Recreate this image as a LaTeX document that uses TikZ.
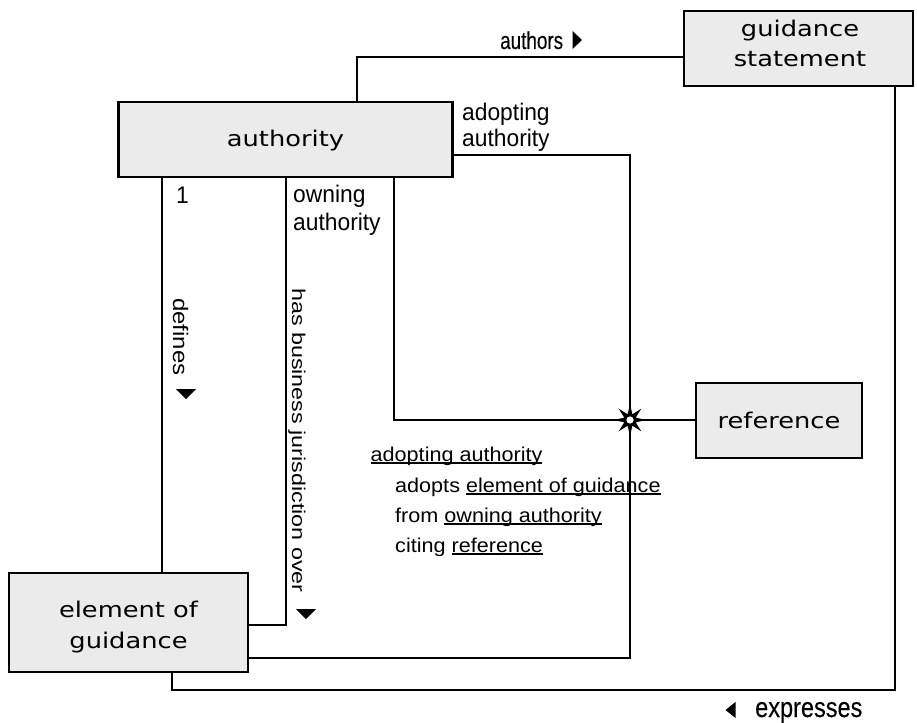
\documentclass[tikz,border=0pt]{standalone}
\usepackage{fontspec}
\usetikzlibrary{shapes.geometric}
\setmainfont{Liberation Sans}
\newfontfamily\boxfnt[FakeStretch=1.19]{DejaVu Sans}
\newfontfamily\lblA[FakeStretch=0.95]{Liberation Sans}
\newfontfamily\lblB[FakeStretch=0.77,FakeBold=0.2]{Liberation Sans}
\newfontfamily\lblC[FakeStretch=0.84,FakeBold=0.2]{Liberation Sans}
\newfontfamily\lblD[FakeStretch=1.14]{Liberation Sans}
\newfontfamily\lblE[FakeStretch=1.26]{Liberation Sans}
\newfontfamily\lblF[FakeStretch=1.08]{Liberation Sans}
\newsavebox\myulbox
\newcommand\myul[1]{\sbox\myulbox{#1}\rlap{\rule[-2.8pt]{\wd\myulbox}{1.6pt}}\usebox\myulbox}
\definecolor{boxgray}{HTML}{EBEBEB}
\tikzset{
  box/.style={draw, line width=2.2pt, fill=boxgray, inner sep=0pt},
  boxtxt/.style={font=\boxfnt\fontsize{21.6}{30}\selectfont, anchor=base, inner sep=0pt},
  conn/.style={line width=2pt},
  lbl/.style={anchor=base west, inner sep=0pt},
  tri/.style={fill=black}
}
\begin{document}
\begin{tikzpicture}[x=1pt,y=-1pt]
\path[use as bounding box] (0,0) rectangle (917,722);

% boxes
\node[box, minimum width=334pt, minimum height=75pt] (auth) at (285.5,139.5) {};
\node[box, minimum width=229pt, minimum height=75pt] (gs) at (798.5,48.5) {};
\node[box, minimum width=239pt, minimum height=99pt] (eog) at (128.5,622.5) {};
\node[box, minimum width=166pt, minimum height=75pt] (ref) at (779,420.5) {};

% box texts
\node[boxtxt] (authT) at (285.5,147) {authority};
\node[boxtxt] (gsT1) at (800,37) {guidance};
\node[boxtxt] (gsT2) at (800,67) {statement};
\node[boxtxt] (eogT1) at (128.5,617) {element of};
\node[boxtxt] (eogT2) at (128.5,648) {guidance};
\node[boxtxt] (refT) at (779,428) {reference};

% routing coordinates
\coordinate (cAuth) at (357,57);
\coordinate (cAdTop) at (630,155);
\coordinate (cAdBot) at (630,658);
\coordinate (cOwn) at (394,420);
\coordinate (cDef) at (162,0);
\coordinate (cHas) at (286,625);
\coordinate (cExR) at (895,690);
\coordinate (cExL) at (172,690);

\coordinate (star) at (630,420);

% connectors
\draw[conn] (auth.north -| cAuth) |- (gs.west |- cAuth);
\draw[conn] (auth.east |- cAdTop) -| (star);
\draw[conn] (star) |- (eog.east |- cAdBot);
\draw[conn] (auth.south -| cOwn) |- (star);
\draw[conn] (star) -- (ref.west |- star);
\draw[conn] (auth.south -| cDef) -- (eog.north -| cDef);
\draw[conn] (auth.south -| cHas) |- (eog.east |- cHas);
\draw[conn] (gs.south -| cExR) |- (cExL) -- (eog.south -| cExL);

% star on top
\fill[shift={(star)}] (0:16)
  \foreach \a in {0,45,...,315} { -- (\a:16) -- (\a+22.5:6.2) } -- cycle;
\fill[white] (star) circle (3.6pt);

% labels
\node[lbl, font=\lblB\fontsize{24.5}{26}\selectfont] (lAuthors) at (500,49) {authors};
\fill[tri] (572.5,31) -- (582,40) -- (572.5,49) -- cycle;

\node[lbl, font=\lblA\fontsize{24}{26}\selectfont] (lAd1) at (462,121) {adopting};
\node[lbl, font=\lblA\fontsize{24}{26}\selectfont] (lAd2) at (462,147) {authority};

\node[lbl, font=\lblA\fontsize{24}{26}\selectfont] (lOne) at (176,203) {1};
\node[lbl, font=\lblA\fontsize{24}{26}\selectfont] (lOw1) at (293,202) {owning};
\node[lbl, font=\lblA\fontsize{24}{26}\selectfont] (lOw2) at (293,230) {authority};

\node[lbl, rotate=-90, font=\lblD\fontsize{21}{24}\selectfont] (lDef) at (173,298) {defines};
\fill[tri] (176,389) -- (196,389) -- (186,399) -- cycle;

\node[lbl, rotate=-90, font=\lblE\fontsize{18.5}{22}\selectfont] (lHas) at (292,288) {has business jurisdiction over};
\fill[tri] (296,609) -- (316,609) -- (306,619) -- cycle;

\node[lbl, font=\lblC\fontsize{28}{30}\selectfont] (lExp) at (755,717) {expresses};
\fill[tri] (725.5,710) -- (735.5,702) -- (735.5,718) -- cycle;

% text block
\node[lbl, font=\lblF\fontsize{20}{24}\selectfont] (tb1) at (370.5,461) {\myul{adopting authority}};
\node[lbl, font=\lblF\fontsize{20}{24}\selectfont] (tb2) at (395,492) {adopts \myul{element of guidance}};
\node[lbl, font=\lblF\fontsize{20}{24}\selectfont] (tb3) at (395,522) {from \myul{owning authority}};
\node[lbl, font=\lblF\fontsize{20}{24}\selectfont] (tb4) at (395,552) {citing \myul{reference}};
\end{tikzpicture}
\end{document}
